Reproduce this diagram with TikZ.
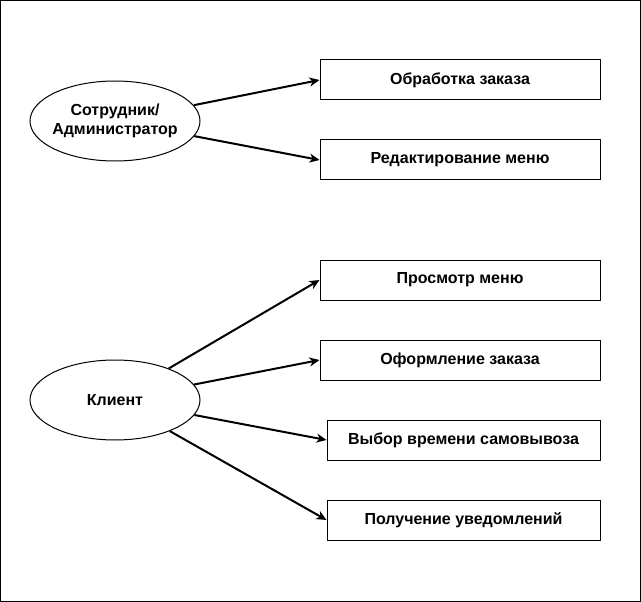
\documentclass[tikz,border=0pt]{standalone}
\usepackage{fontspec}
\setmainfont{Liberation Sans}
\usetikzlibrary{shapes.geometric,arrows.meta}
\begin{document}
\begin{tikzpicture}[x=1pt,y=-1pt,
  txt/.style={font=\bfseries\fontsize{16}{19}\selectfont,align=center},
  actor/.style={ellipse,draw,line width=1pt,minimum width=170pt,minimum height=80pt,inner sep=0pt,
    label={[txt]center:#1}},
  usecase/.style={rectangle,draw,line width=1pt,minimum height=40pt,inner sep=0pt,txt},
  link/.style={line width=2pt,-{Stealth[length=10pt,width=9pt,inset=3pt]}}]
\useasboundingbox (0,0) rectangle (641,602);
\draw[line width=1pt] (0.5,0.5) rectangle (640.5,601.5);
\node[actor={Сотрудник/\\Администратор}] (e1) at (115,121) {};
\node[actor={Клиент}] (e2) at (115,400) {};
\node[usecase,minimum width=280pt] (b1) at (460,80) {Обработка заказа};
\node[usecase,minimum width=280pt] (b2) at (460,160) {Редактирование меню};
\node[usecase,minimum width=280pt] (b3) at (460,280) {Просмотр меню};
\node[usecase,minimum width=280pt] (b4) at (460,360) {Оформление заказа};
\node[usecase,minimum width=273pt] (b5) at (463.5,440) {Выбор времени самовывоза};
\node[usecase,minimum width=273pt] (b6) at (463.5,520) {Получение уведомлений};
\draw[link] (e1) -- (b1.west);
\draw[link] (e1) -- (b2.west);
\draw[link] (e2) -- (b3.west);
\draw[link] (e2) -- (b4.west);
\draw[link] (e2) -- (b5.west);
\draw[link] (e2) -- (b6.west);
\end{tikzpicture}
\end{document}
